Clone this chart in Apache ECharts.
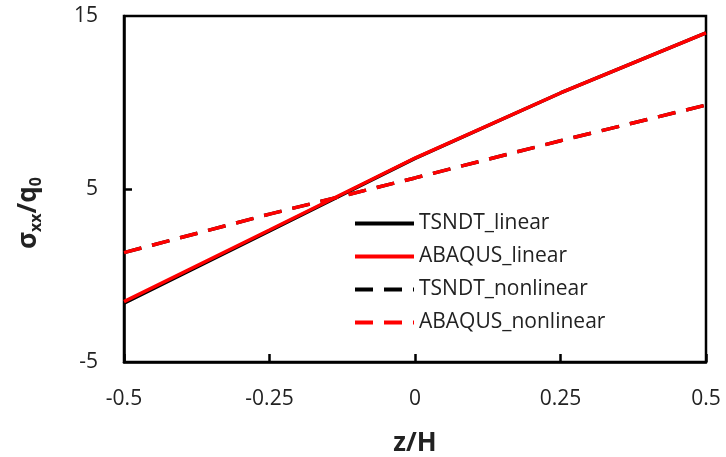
<!DOCTYPE html>
<html>
<head>
<meta charset="utf-8">
<script src="https://cdn.jsdelivr.net/npm/echarts@6/dist/echarts.min.js"></script>
<style>
  html, body { margin: 0; padding: 0; background: #fff; }
  #chart { width: 726px; height: 457px; }
</style>
</head>
<body>
<div id="chart"></div>
<script>
var zH = [-0.5, -0.25, 0, 0.25, 0.5];
var tsndtLinear = [-1.6, 2.58, 6.77, 10.55, 14.03];
var abaqusLinear = [-1.51, 2.63, 6.79, 10.55, 14.03];
var tsndtNonlinear = [1.32, 3.55, 5.64, 7.79, 9.85];
var abaqusNonlinear = [1.32, 3.55, 5.64, 7.79, 9.85];

function pairs(ys) {
    return zH.map(function (x, i) { return [x, ys[i]]; });
}

var myChart = echarts.init(document.getElementById('chart'));

var font = '"Open Sans", sans-serif';
var dash = [18, 11];

function lineSeries(name, ys, color, type, z) {
    return {
        name: name,
        type: 'line',
        data: pairs(ys),
        symbol: 'none',
        z: z,
        lineStyle: { color: color, width: 3.5, type: type },
        itemStyle: { color: color }
    };
}

var option = {
    animation: false,
    grid: {
        left: 124, right: 20, top: 16, bottom: 95,
        outerBoundsMode: 'none',
        show: true, borderColor: '#000', borderWidth: 2.5
    },
    legend: {
        orient: 'vertical',
        left: 353,
        top: 213,
        padding: 0,
        itemWidth: 59,
        itemHeight: 14,
        itemGap: 12,
        itemStyle: { opacity: 0 },
        lineStyle: { width: 4 },
        textStyle: { fontFamily: font, fontSize: 21, color: '#222' },
        data: ['TSNDT_linear', 'ABAQUS_linear', 'TSNDT_nonlinear', 'ABAQUS_nonlinear']
    },
    xAxis: {
        type: 'value',
        min: -0.5, max: 0.5, interval: 0.25,
        name: 'z/H',
        nameLocation: 'middle',
        nameGap: 69,
        nameTextStyle: { fontFamily: font, fontSize: 26, fontWeight: 'bold', color: '#222' },
        axisLine: { onZero: false, lineStyle: { color: '#000', width: 2.5 } },
        axisTick: { inside: true, length: 8, lineStyle: { color: '#000', width: 2.5 } },
        axisLabel: { fontFamily: font, fontSize: 21, color: '#222', margin: 27 },
        splitLine: { show: false }
    },
    yAxis: {
        type: 'value',
        min: -5, max: 15, interval: 10,
        axisLine: { show: true, onZero: false, lineStyle: { color: '#000', width: 2.5 } },
        axisTick: { show: true, inside: true, length: 8, customValues: [5], lineStyle: { color: '#000', width: 2.5 } },
        axisLabel: { fontFamily: font, fontSize: 21, color: '#222', margin: 26 },
        splitLine: { show: false }
    },
    graphic: [{
        type: 'text',
        x: 29,
        y: 213,
        rotation: Math.PI / 2,
        style: {
            text: '{b|σ}{s|xx}{b|/q}{s|0}',
            align: 'center',
            verticalAlign: 'middle',
            rich: {
                b: { fontFamily: font, fontSize: 26, fontWeight: 'bold', fill: '#222' },
                s: { fontFamily: font, fontSize: 16, fontWeight: 'bold', fill: '#222', padding: [14, 0, 0, 0] }
            }
        }
    }],
    series: [
        lineSeries('TSNDT_linear', tsndtLinear, '#000', 'solid', 2),
        lineSeries('ABAQUS_linear', abaqusLinear, '#ff0000', 'solid', 3),
        lineSeries('TSNDT_nonlinear', tsndtNonlinear, '#000', dash, 2),
        lineSeries('ABAQUS_nonlinear', abaqusNonlinear, '#ff0000', dash, 4)
    ]
};

myChart.setOption(option);
</script>
</body>
</html>
